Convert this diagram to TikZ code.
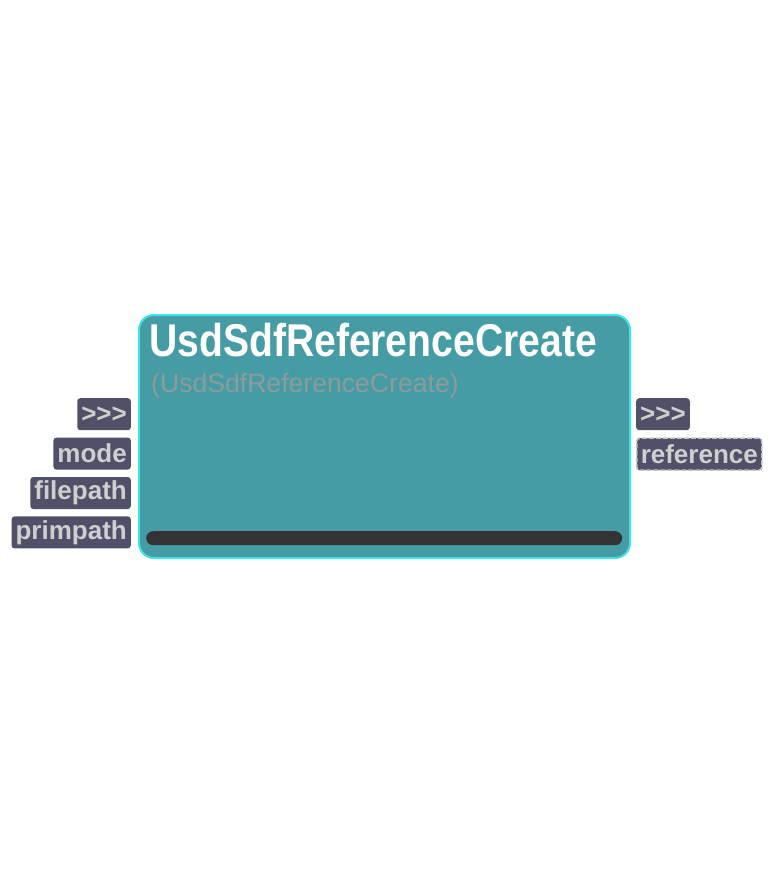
\documentclass[tikz,border=0pt]{standalone}
\usepackage{fontspec}
\setmainfont{Liberation Sans}
\newfontfamily\titlefont[FakeStretch=0.85]{Liberation Sans}
\usetikzlibrary{positioning}

\definecolor{nodeteal}{HTML}{459CA4}
\definecolor{nodeedge}{HTML}{3FE3EC}
\definecolor{portfill}{HTML}{505068}
\definecolor{porttext}{HTML}{CFCFCF}
\definecolor{subgray}{HTML}{8E9B9C}
\definecolor{bardark}{HTML}{333333}

\tikzset{
  port/.style={fill=portfill, text=porttext, rounded corners=3pt, minimum height=32pt,
    inner xsep=4pt, inner ysep=0pt, font=\fontsize{26}{26}\selectfont\bfseries},
  outport/.style={port, draw=porttext!85!gray, dash pattern=on 5pt off 2pt, line width=1.5pt}
}

\begin{document}
\begin{tikzpicture}[x=1pt, y=-1pt]
    \useasboundingbox (0,0) rectangle (775,875);

    % node body
    \node (body) [draw=nodeedge, line width=2pt, fill=nodeteal, rounded corners=15pt,
      minimum width=491pt, minimum height=243pt, inner sep=0pt, anchor=north west] at (138,314) {};
    \node (title) [anchor=base west, inner sep=0pt, text=white,
      font=\titlefont\fontsize{46}{46}\selectfont\bfseries] at (149,356) {UsdSdfReferenceCreate};
    \node (subtitle) [anchor=base west, inner sep=0pt, text=subgray,
      font=\fontsize{26.6}{27}\selectfont] at (151,392) {(UsdSdfReferenceCreate)};
    \node (bar) [fill=bardark, rounded corners=7pt, minimum width=476pt, minimum height=14pt,
      inner sep=0pt, anchor=north west] at (146,531) {};

    % inputs
    \node (inexec) [port, anchor=north east] at (131,398) {>\kern0pt>\kern0pt>};
    \node (mode) [port, below=7pt of inexec.south east, anchor=north east] {mode};
    \node (filepath) [port, below=7pt of mode.south east, anchor=north east] {filepath};
    \node (primpath) [port, below=7pt of filepath.south east, anchor=north east] {primpath};

    % outputs
    \node (outexec) [port, anchor=north west] at (636,398) {>\kern0pt>\kern0pt>};
    \node (reference) [outport, below=7pt of outexec.south west, anchor=north west] {reference};
\end{tikzpicture}
\end{document}
